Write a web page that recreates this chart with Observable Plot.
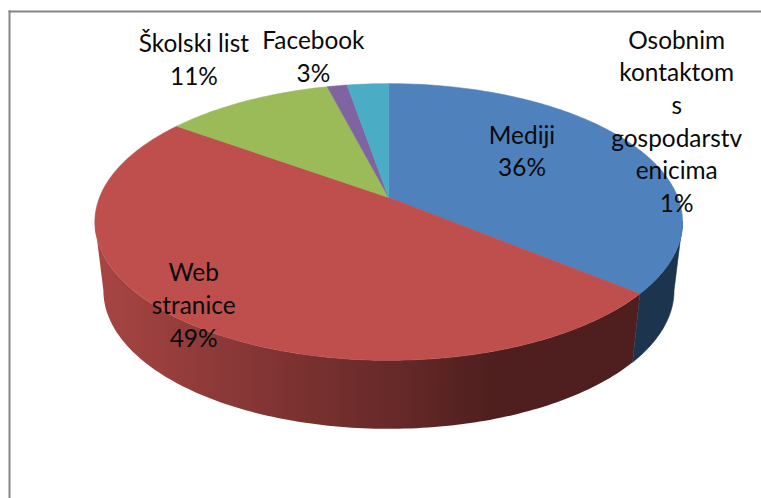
<!DOCTYPE html>
<html>
<head>
<meta charset="utf-8">
<style>html,body{margin:0;padding:0;background:#fff}svg{display:block}</style>
<script src="https://cdn.jsdelivr.net/npm/d3@7"></script>
<script src="https://cdn.jsdelivr.net/npm/@observablehq/plot@0.6"></script>
</head>
<body>
<div id="chart"></div>
<script>
// Data, clockwise from twelve o'clock
const categories = ["Mediji", "Web\nstranice", "Školski list", "Osobnim\nkontaktom\ns\ngospodarstv\nenicima", "Facebook"];
const shares = [36, 49, 11, 1.3, 2.7];
const colors = ["#4f81bd", "#be4f4d", "#9bbb59", "#8064a2", "#4bacc6"];

// Label nudges from each slice's rim point, in pixels
const labelNudge = [[-110, 5], [11, -17], [-53, -43], [339.5, 34], [-54.5, -29]];

// Perspective layout of the disc
const W = 761, H = 498, cx = 388.2, cy = 197, rx = 289.2, ry = 134, tilt = -0.177;
const wallX = 0.971, wallY = 1.0, wallDrop = 68.5 / ry;

const project = (deg, r = 1) => {
  const t = deg * Math.PI / 180, u = r * Math.sin(t), v = -r * Math.cos(t), d = 1 + tilt * v;
  return {x: u / d, y: v / d};
};
const lower = p => ({x: p.x * wallX, y: p.y * wallY + wallDrop});
const arc = (a0, a1) => {
  const n = Math.max(2, Math.ceil(Math.abs(a1 - a0)));
  return d3.range(n + 1).map(i => project(a0 + (a1 - a0) * i / n));
};

const total = d3.sum(shares);
const ends = d3.cumsum(shares).map(c => c / total * 360);
const starts = ends.map((e, i) => i ? ends[i - 1] : 0);

const sliceMarks = shares.map((_, i) => Plot.line(
  [{x: 0, y: 0}, ...arc(starts[i], ends[i]), {x: 0, y: 0}],
  {x: "x", y: "y", fill: colors[i], stroke: colors[i], strokeWidth: 0.6}
));

// Visible rim: from the right-most to the left-most point of the ellipse
const rimRight = 90 + Math.asin(-tilt) * 180 / Math.PI;
const rimLeft = 360 - rimRight;
const wall = (a0, a1) => {
  const top = arc(a0, a1);
  return [...top, ...top.slice().reverse().map(lower), top[0]];
};

const gradient = () => {
  const defs = d3.create("svg:defs");
  const g = defs.append("linearGradient").attr("id", "webWall").attr("x1", 0).attr("x2", 1).attr("y1", 0).attr("y2", 0);
  [[0, "#a84543"], [0.2, "#8f3b3a"], [0.38, "#7a3130"], [0.56, "#652928"], [0.73, "#4e1f1e"], [1, "#4e1f1e"]]
    .forEach(([o, c]) => g.append("stop").attr("offset", o).attr("stop-color", c));
  return defs.node();
};

const labelMarks = categories.map((name, i) => {
  const at = project((starts[i] + ends[i]) / 2);
  return Plot.text([`${name}\n${Math.round(shares[i])}%`], {
    x: [at.x], y: [at.y], text: d => d, dx: labelNudge[i][0], dy: labelNudge[i][1],
    textAnchor: "middle", lineAnchor: "middle", lineHeight: 1.34,
    fontSize: 24.4, fontFamily: "Lato", fill: "#0a0a0a"
  });
});

const mL = 9, mT = 11;
const chart = Plot.plot({
  width: W, height: H,
  marginLeft: mL, marginTop: mT, marginRight: 0, marginBottom: 0,
  style: {background: "#fff"},
  x: {axis: null, domain: [(mL - cx) / rx, (W - cx) / rx], range: [mL, W]},
  y: {axis: null, domain: [(mT - cy) / ry, (H - cy) / ry], range: [mT, H]},
  marks: [
    gradient,
    Plot.frame({anchor: "left", stroke: "#868686", strokeWidth: 2, strokeOpacity: 1}),
    Plot.frame({anchor: "top", stroke: "#868686", strokeWidth: 2, strokeOpacity: 1}),
    Plot.line(wall(rimRight, ends[0]), {x: "x", y: "y", fill: "#1d344f", stroke: "#1d344f", strokeWidth: 0.6}),
    Plot.line(wall(ends[0], rimLeft), {x: "x", y: "y", fill: "url(#webWall)"}),
    ...sliceMarks,
    ...labelMarks
  ]
});
document.getElementById("chart").appendChild(chart);
</script>
</body>
</html>
